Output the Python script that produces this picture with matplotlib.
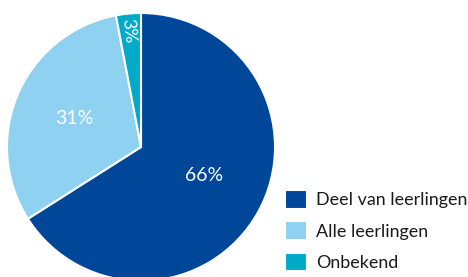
import matplotlib
matplotlib.use('Agg')
from matplotlib import pyplot as plt

labels = ['Deel van leerlingen', 'Alle leerlingen', 'Onbekend']
values = [66, 31, 3]
colors = ['#00479a', '#8ed1f0', '#00aac8']

plt.rcParams['font.family'] = ['Lato', 'DejaVu Sans']

W, H = 468, 277
fig = plt.figure(figsize=(W / 100, H / 100), dpi=100)

# pie is cut off at the bottom of the picture
cx, cy, r = 141, 147, 134
ax = fig.add_axes([(cx - r) / W, (H - cy - r) / H, 2 * r / W, 2 * r / H])

wedges, texts, autotexts = ax.pie(values, colors=colors, startangle=90, counterclock=False,
                                  autopct='%d%%', pctdistance=0.54, radius=1,
                                  wedgeprops={'edgecolor': 'white', 'linewidth': 1.5},
                                  textprops={'color': 'white', 'fontsize': 14})
ax.set_xlim(-1, 1)
ax.set_ylim(-1, 1)
ax.set_aspect('equal')

# big slice label sits a bit higher in the reference
x, y = autotexts[0].get_position()
autotexts[0].set_position((x, y + 0.05))

# small slice: label sits near the rim, rotated along the radius
t = autotexts[2]
t.set_position((-0.09, 0.87))
t.set_rotation(-84)
t.set_fontsize(13)

fig.legend(wedges, labels, loc='upper left', bbox_to_anchor=(285 / W, 1 - 190 / H),
           frameon=False, fontsize=12.9, handlelength=1.23, handleheight=1.23,
           handletextpad=0.5, labelspacing=0.7, borderpad=0, borderaxespad=0,
           labelcolor='#1a1a1a')

fig.savefig('out.png', dpi=100)
